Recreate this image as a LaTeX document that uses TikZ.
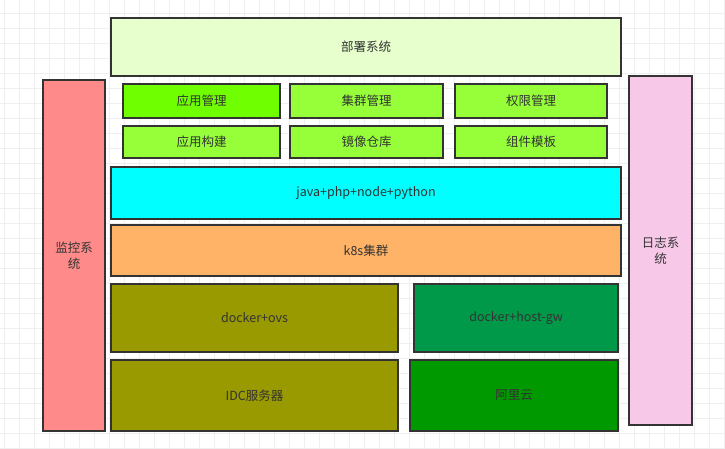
\documentclass[tikz,border=0pt]{standalone}
\usepackage{fontspec}
\newfontfamily\cjk{Noto Sans CJK SC}
\definecolor{gridc}{HTML}{EFEFEF}
\definecolor{edgec}{HTML}{333333}
\definecolor{txtc}{HTML}{333333}
\definecolor{deploy}{HTML}{E6FFCC}
\definecolor{brightg}{HTML}{70FF00}
\definecolor{limeg}{HTML}{96FF3A}
\definecolor{cyanc}{HTML}{00FFFF}
\definecolor{orangec}{HTML}{FFB366}
\definecolor{olivec}{HTML}{999900}
\definecolor{greenb}{HTML}{00994A}
\definecolor{greenc}{HTML}{009900}
\definecolor{pinkl}{HTML}{FF8A8A}
\definecolor{pinkr}{HTML}{F7C8E8}
\tikzset{
  blk/.style={draw=edgec, line width=1.3pt, rectangle, inner sep=0pt,
    font=\cjk\fontsize{12.5}{16}\selectfont, text=txtc, align=center},
}
\begin{document}
\begin{tikzpicture}[x=1pt,y=-1pt]
\useasboundingbox (0,0) rectangle (725,448);
\fill[white] (0,0) rectangle (725,448);
\foreach \i in {4,19,...,725} \draw[gridc, line width=0.6pt] (\i,0) -- (\i,448);
\foreach \j in {13,28,...,448} \draw[gridc, line width=0.6pt] (0,\j) -- (725,\j);
\node[blk, fill=deploy, minimum width=510pt, minimum height=58pt] (deploy) at (366,47) {部署系统};
\node[blk, fill=pinkl, minimum width=62pt, minimum height=351pt] (mon) at (74,255.5) {监控系\\统};
\node[blk, fill=pinkr, minimum width=63pt, minimum height=349pt] (log) at (660.5,250.5) {日志系\\统};
\node[blk, fill=brightg, minimum width=157pt, minimum height=34pt] (app) at (201.5,101) {应用管理};
\node[blk, fill=limeg, minimum width=153pt, minimum height=34pt] (cluster) at (366.5,101) {集群管理};
\node[blk, fill=limeg, minimum width=152pt, minimum height=34pt] (perm) at (531,101) {权限管理};
\node[blk, fill=limeg, minimum width=157pt, minimum height=32pt] (build) at (201.5,142) {应用构建};
\node[blk, fill=limeg, minimum width=153pt, minimum height=32pt] (image) at (366.5,142) {镜像仓库};
\node[blk, fill=limeg, minimum width=152pt, minimum height=32pt] (tmpl) at (531,142) {组件模板};
\node[blk, fill=cyanc, minimum width=510pt, minimum height=52pt] (lang) at (366,193) {java+php+node+python};
\node[blk, fill=orangec, minimum width=510pt, minimum height=51pt] (k8s) at (366,250.5) {k8s集群};
\node[blk, fill=olivec, minimum width=287pt, minimum height=68pt] (ovs) at (254.5,318) {docker+ovs};
\node[blk, fill=greenb, minimum width=204pt, minimum height=68pt] (hgw) at (516,318) {docker+host-gw};
\node[blk, fill=olivec, minimum width=287pt, minimum height=71pt] (idc) at (254.5,395.5) {IDC服务器};
\node[blk, fill=greenc, minimum width=208pt, minimum height=71pt] (ali) at (514,395.5) {阿里云};
\end{tikzpicture}
\end{document}
